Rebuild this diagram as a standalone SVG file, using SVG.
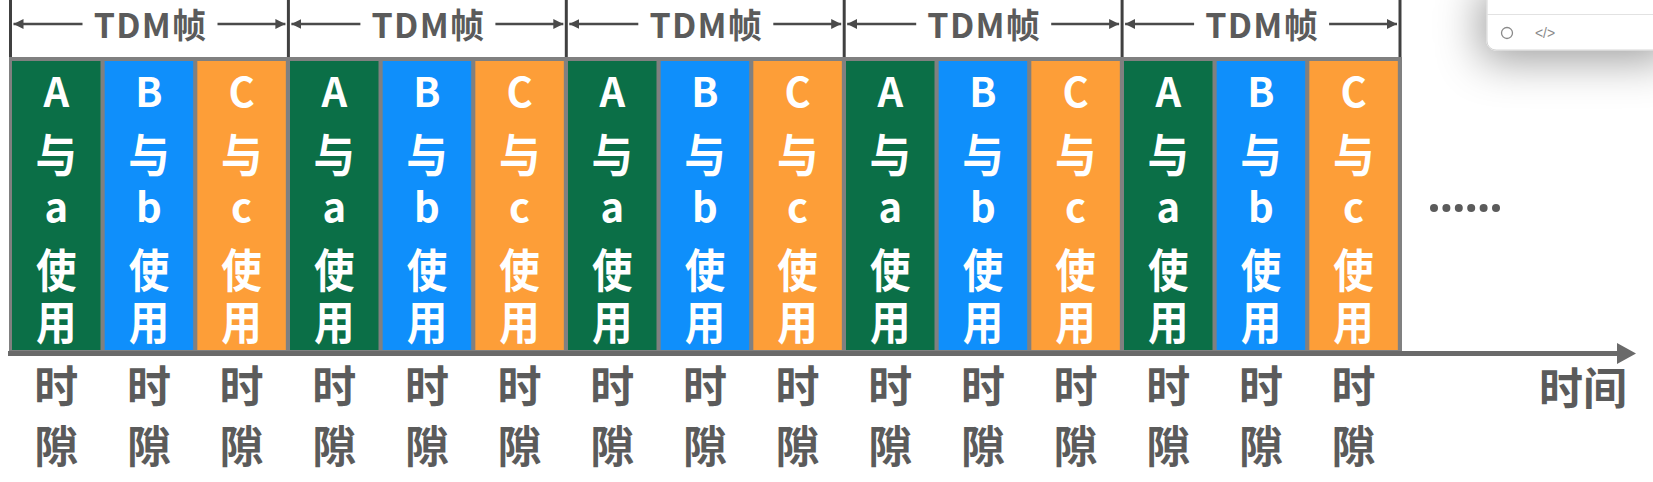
<svg xmlns="http://www.w3.org/2000/svg" width="1653" height="482" viewBox="0 0 1653 482">
<defs>
<style>
.g{fill:#0b6f47}.b{fill:#0f8ffb}.o{fill:#fd9e38}
.la{font-family:"Noto Sans CJK SC","Noto Sans",sans-serif;font-weight:bold;font-size:40px;fill:#ffffff;text-anchor:middle}
.cj{font-family:"Noto Sans CJK SC","Noto Sans",sans-serif;font-weight:bold;font-size:46px;fill:#ffffff;text-anchor:middle}
.lb{font-family:"Noto Sans CJK SC","Noto Sans",sans-serif;font-weight:bold;font-size:44px;fill:#5b5b5b;text-anchor:middle}
.hd{font-family:"Noto Sans CJK SC","Noto Sans",sans-serif;font-weight:bold;font-size:34px;letter-spacing:1.3px;fill:#5b5b5b;text-anchor:middle}
.tick{stroke:#404040;stroke-width:3}
.harr{stroke:#4a4a4a;stroke-width:2.5;marker-end:url(#ah)}
</style>
<marker id="ah" markerUnits="userSpaceOnUse" markerWidth="11" markerHeight="11" refX="10" refY="5" orient="auto">
<path d="M0,0 L10,5 L0,10 z" fill="#4a4a4a"/>
</marker>
<filter id="sh" x="-80%" y="-200%" width="260%" height="500%">
<feDropShadow dx="-6" dy="10" stdDeviation="22" flood-color="#000" flood-opacity="0.38"/>
</filter>
<g id="tA"><text class="la" y="107">A</text><text class="cj" y="172" transform="scale(0.9,1)">与</text><text class="la" y="222">a</text><text class="cj" y="287" transform="scale(0.88,1)">使</text><text class="cj" y="339" transform="scale(0.88,1)">用</text></g>
<g id="tB"><text class="la" y="107">B</text><text class="cj" y="172" transform="scale(0.9,1)">与</text><text class="la" y="222">b</text><text class="cj" y="287" transform="scale(0.88,1)">使</text><text class="cj" y="339" transform="scale(0.88,1)">用</text></g>
<g id="tC"><text class="la" y="107">C</text><text class="cj" y="172" transform="scale(0.9,1)">与</text><text class="la" y="222">c</text><text class="cj" y="287" transform="scale(0.88,1)">使</text><text class="cj" y="339" transform="scale(0.88,1)">用</text></g>
<g id="tS"><text class="lb" y="403">时</text><text class="lb" y="463">隙</text></g>
</defs>
<rect width="1653" height="482" fill="#ffffff"/>

<g id="frames">
<line class="tick" x1="10.5" y1="0" x2="10.5" y2="57"/>
<line class="tick" x1="288.4" y1="0" x2="288.4" y2="57"/>
<line class="tick" x1="566.3" y1="0" x2="566.3" y2="57"/>
<line class="tick" x1="844.2" y1="0" x2="844.2" y2="57"/>
<line class="tick" x1="1122.1" y1="0" x2="1122.1" y2="57"/>
<line class="tick" x1="1400" y1="0" x2="1400" y2="57"/>
</g>
<g id="frame-labels">
<g id="frame1"><text class="hd" x="150.5" y="38">TDM帧</text></g>
<g id="frame2"><text class="hd" x="428.4" y="38">TDM帧</text></g>
<g id="frame3"><text class="hd" x="706.3" y="38">TDM帧</text></g>
<g id="frame4"><text class="hd" x="984.2" y="38">TDM帧</text></g>
<g id="frame5"><text class="hd" x="1262.1" y="38">TDM帧</text></g>
</g>

<rect id="slot-border" x="9" y="57" width="1393" height="296" fill="#808080"/>

<g id="slot1"><rect class="g" x="12" y="61" width="88.5" height="289"/><use href="#tA" transform="translate(56.25,0)"/></g>
<g id="slot2"><rect class="b" x="104.67" y="61" width="88.5" height="289"/><use href="#tB" transform="translate(148.92,0)"/></g>
<g id="slot3"><rect class="o" x="197.33" y="61" width="88.5" height="289"/><use href="#tC" transform="translate(241.58,0)"/></g>
<g id="slot4"><rect class="g" x="290" y="61" width="88.5" height="289"/><use href="#tA" transform="translate(334.25,0)"/></g>
<g id="slot5"><rect class="b" x="382.67" y="61" width="88.5" height="289"/><use href="#tB" transform="translate(426.92,0)"/></g>
<g id="slot6"><rect class="o" x="475.33" y="61" width="88.5" height="289"/><use href="#tC" transform="translate(519.58,0)"/></g>
<g id="slot7"><rect class="g" x="568" y="61" width="88.5" height="289"/><use href="#tA" transform="translate(612.25,0)"/></g>
<g id="slot8"><rect class="b" x="660.67" y="61" width="88.5" height="289"/><use href="#tB" transform="translate(704.92,0)"/></g>
<g id="slot9"><rect class="o" x="753.33" y="61" width="88.5" height="289"/><use href="#tC" transform="translate(797.58,0)"/></g>
<g id="slot10"><rect class="g" x="846" y="61" width="88.5" height="289"/><use href="#tA" transform="translate(890.25,0)"/></g>
<g id="slot11"><rect class="b" x="938.67" y="61" width="88.5" height="289"/><use href="#tB" transform="translate(982.92,0)"/></g>
<g id="slot12"><rect class="o" x="1031.33" y="61" width="88.5" height="289"/><use href="#tC" transform="translate(1075.58,0)"/></g>
<g id="slot13"><rect class="g" x="1124" y="61" width="88.5" height="289"/><use href="#tA" transform="translate(1168.25,0)"/></g>
<g id="slot14"><rect class="b" x="1216.67" y="61" width="88.5" height="289"/><use href="#tB" transform="translate(1260.92,0)"/></g>
<g id="slot15"><rect class="o" x="1309.33" y="61" width="88.5" height="289"/><use href="#tC" transform="translate(1353.58,0)"/></g>

<g id="slot-labels">
<use href="#tS" transform="translate(56.25,0)"/>
<use href="#tS" transform="translate(148.92,0)"/>
<use href="#tS" transform="translate(241.58,0)"/>
<use href="#tS" transform="translate(334.25,0)"/>
<use href="#tS" transform="translate(426.92,0)"/>
<use href="#tS" transform="translate(519.58,0)"/>
<use href="#tS" transform="translate(612.25,0)"/>
<use href="#tS" transform="translate(704.92,0)"/>
<use href="#tS" transform="translate(797.58,0)"/>
<use href="#tS" transform="translate(890.25,0)"/>
<use href="#tS" transform="translate(982.92,0)"/>
<use href="#tS" transform="translate(1075.58,0)"/>
<use href="#tS" transform="translate(1168.25,0)"/>
<use href="#tS" transform="translate(1260.92,0)"/>
<use href="#tS" transform="translate(1353.58,0)"/>
</g>

<g id="connectors">
<line class="harr" x1="82.5" y1="24" x2="13.5" y2="24"/>
<line class="harr" x1="217.5" y1="24" x2="285.4" y2="24"/>
<line class="harr" x1="360.4" y1="24" x2="291.4" y2="24"/>
<line class="harr" x1="495.4" y1="24" x2="563.3" y2="24"/>
<line class="harr" x1="638.3" y1="24" x2="569.3" y2="24"/>
<line class="harr" x1="773.3" y1="24" x2="841.2" y2="24"/>
<line class="harr" x1="916.2" y1="24" x2="847.2" y2="24"/>
<line class="harr" x1="1051.2" y1="24" x2="1119.1" y2="24"/>
<line class="harr" x1="1194.1" y1="24" x2="1125.1" y2="24"/>
<line class="harr" x1="1329.1" y1="24" x2="1397" y2="24"/>
<line x1="8" y1="353.5" x2="1620" y2="353.5" stroke="#6a6a6a" stroke-width="5"/>
<path d="M1617,343 L1636,353.5 L1617,364 z" fill="#6a6a6a"/>
</g>

<g id="axis-label"><text class="lb" x="1583" y="405">时间</text></g>

<g id="ellipsis" fill="#5b5b5b">
<circle cx="1434" cy="208" r="4"/><circle cx="1446.4" cy="208" r="4"/><circle cx="1458.8" cy="208" r="4"/><circle cx="1471.2" cy="208" r="4"/><circle cx="1483.6" cy="208" r="4"/><circle cx="1496" cy="208" r="4"/>
</g>

<g id="window-card">
<rect x="1487" y="-20" width="190" height="70" rx="9" fill="#ffffff" stroke="#d6d6d6" stroke-width="1" filter="url(#sh)"/>
<line x1="1487" y1="14.5" x2="1653" y2="14.5" stroke="#e2e2e2" stroke-width="1"/>
<circle cx="1507" cy="33" r="5.5" fill="none" stroke="#8a8a8a" stroke-width="1.3"/>
<text x="1545" y="38" font-family="'Liberation Sans',sans-serif" font-size="14" fill="#8a8a8a" text-anchor="middle">&lt;/&gt;</text>
</g>
</svg>
